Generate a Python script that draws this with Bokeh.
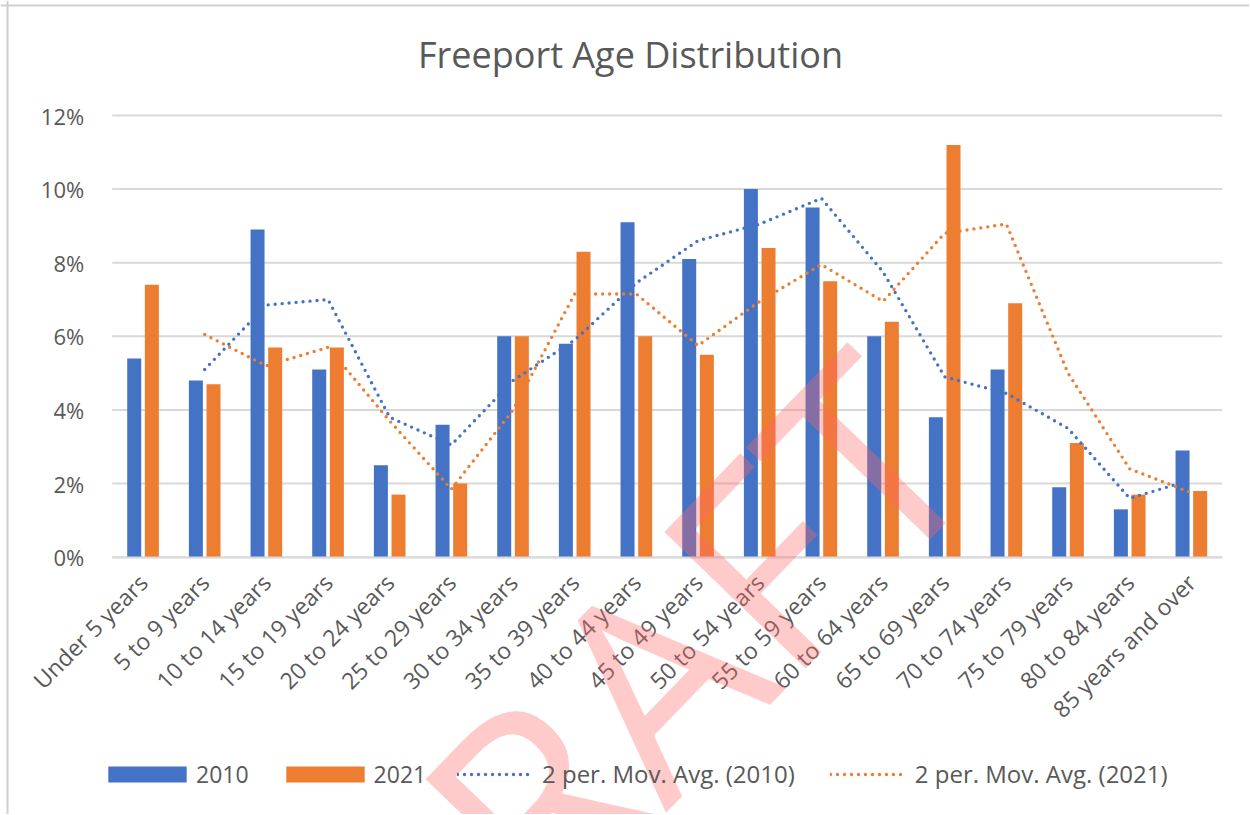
import math
from bokeh.plotting import figure
from bokeh.models import (Range1d, ColumnDataSource, Legend, LegendItem, Label, Span,
                          FixedTicker, PrintfTickFormatter)
from bokeh.transform import dodge
from bokeh.embed import file_html
from bokeh.resources import INLINE

# ---------------- data ----------------
categories = ["Under 5 years", "5 to 9 years", "10 to 14 years", "15 to 19 years",
              "20 to 24 years", "25 to 29 years", "30 to 34 years", "35 to 39 years",
              "40 to 44 years", "45 to 49 years", "50 to 54 years", "55 to 59 years",
              "60 to 64 years", "65 to 69 years", "70 to 74 years", "75 to 79 years",
              "80 to 84 years", "85 years and over"]
pct_2010 = [5.4, 4.8, 8.9, 5.1, 2.5, 3.6, 6.0, 5.8, 9.1, 8.1, 10.0, 9.5, 6.0, 3.8, 5.1, 1.9, 1.3, 2.9]
pct_2021 = [7.4, 4.7, 5.7, 5.7, 1.7, 2.0, 6.0, 8.3, 6.0, 5.5, 8.4, 7.5, 6.4, 11.2, 6.9, 3.1, 1.7, 1.8]

# 2-period moving averages as drawn (they start at the 2nd category)
ma_2010 = [5.1, 6.85, 7.0, 3.8, 3.05, 4.8, 5.9, 7.45, 8.6, 9.05, 9.75, 7.75, 4.9, 4.45, 3.5, 1.6, 2.1]
ma_2021 = [6.05, 5.2, 5.7, 3.7, 1.85, 4.0, 7.15, 7.15, 5.75, 6.95, 7.95, 6.95, 8.8, 9.05, 5.0, 2.4, 1.75]

y_ticks = [0, 2, 4, 6, 8, 10, 12]
title_text = "Freeport Age Distribution"
legend_labels = ["2010", "2021", "2 per. Mov. Avg. (2010)", "2 per. Mov. Avg. (2021)"]
watermark = "DRAFT"

# ---------------- styling ----------------
FONT = "Open Sans"
TXT = "#595959"
GRID = "#d9d9d9"
BLUE = "#4472C4"
ORANGE = "#ED7D31"

W, H = 1249, 814
n = len(categories)
pos = [i + 0.5 for i in range(n)]          # category centres on a numeric axis
cat_px = 1110 / n                          # pixel width of one category
y_px = 441.7 / 12                          # pixels per percentage point

bars = ColumnDataSource(dict(pos=pos, v2010=pct_2010, v2021=pct_2021))
ma = ColumnDataSource(dict(pos=pos[1:], m2010=ma_2010, m2021=ma_2021))
grid = ColumnDataSource(dict(y=y_ticks, x0=[0] * len(y_ticks), x1=[n] * len(y_ticks)))

p = figure(x_range=Range1d(-111.7 / cat_px, (W - 111.7) / cat_px),
           y_range=Range1d(-(H - 556.7) / y_px, 12 + 115 / y_px),
           width=W, height=H, output_backend="svg", toolbar_location=None,
           min_border=0, min_border_left=0, min_border_right=0,
           min_border_top=0, min_border_bottom=0)
p.outline_line_color = None
p.background_fill_color = "white"
p.border_fill_color = "white"
p.xgrid.visible = False
p.ygrid.visible = False

# horizontal gridlines limited to the plot area
p.segment(x0="x0", x1="x1", y0="y", y1="y", source=grid, line_color=GRID, line_width=2)

r1 = p.vbar(x=dodge("pos", -0.143), top="v2010", width=0.227,
            source=bars, fill_color=BLUE, line_color=None)
r2 = p.vbar(x=dodge("pos", 0.143), top="v2021", width=0.227,
            source=bars, fill_color=ORANGE, line_color=None)
r3 = p.line(x="pos", y="m2010", source=ma, line_color=BLUE, line_width=3.4,
            line_dash="0 7", line_cap="round")
r4 = p.line(x="pos", y="m2021", source=ma, line_color=ORANGE, line_width=3.4,
            line_dash="0 7", line_cap="round")

# y axis
p.yaxis.fixed_location = 0
p.yaxis.ticker = FixedTicker(ticks=y_ticks)
p.yaxis.formatter = PrintfTickFormatter(format="%d%%")
p.yaxis.axis_line_color = None
p.yaxis.major_tick_line_color = None
p.yaxis.minor_tick_line_color = None
p.yaxis.major_label_standoff = 22
p.yaxis.major_label_text_font = FONT
p.yaxis.major_label_text_font_size = "22px"
p.yaxis.major_label_text_color = TXT

# x axis (categories)
p.xaxis.fixed_location = 0
p.xaxis.bounds = (0, n)
p.xaxis.ticker = FixedTicker(ticks=pos)
p.xaxis.major_label_overrides = {x: c for x, c in zip(pos, categories)}
p.xaxis.major_label_orientation = math.pi / 4
p.xaxis.axis_line_color = GRID
p.xaxis.axis_line_width = 2
p.xaxis.major_tick_line_color = None
p.xaxis.minor_tick_line_color = None
p.xaxis.major_label_standoff = 15
p.xaxis.major_label_text_font = FONT
p.xaxis.major_label_text_font_size = "23px"
p.xaxis.major_label_text_color = TXT

common = dict(orientation="horizontal", padding=0, margin=0, border_line_color=None,
              background_fill_alpha=0, label_text_font=FONT, label_text_color=TXT)
# legend below the plot area: bar items (patch drawn at 80% of the glyph box)
legend_bars = Legend(items=[LegendItem(label=legend_labels[0], renderers=[r1]),
                            LegendItem(label=legend_labels[1], renderers=[r2])],
                     location=(98, 24), glyph_width=98, glyph_height=20,
                     label_standoff=0, spacing=27, label_text_font_size="23px", **common)
legend_lines = Legend(items=[LegendItem(label=legend_labels[2], renderers=[r3]),
                             LegendItem(label=legend_labels[3], renderers=[r4])],
                      location=(457, 24), glyph_width=73, glyph_height=20,
                      label_standoff=12, spacing=35, label_text_font_size="24px", **common)
p.add_layout(legend_bars)
p.add_layout(legend_lines)

# chart border (left and top edges of the chart box)
p.add_layout(Span(location=7, location_units="screen", dimension="height",
                  line_color="#d0d0d0", line_width=2))
p.add_layout(Span(location=H - 5, location_units="screen", dimension="width",
                  line_color="#d0d0d0", line_width=2))

# title centred over the chart
p.add_layout(Label(x=630, y=H - 54, x_units="screen", y_units="screen", text=title_text,
                   text_font=FONT, text_font_size="36px", text_color=TXT,
                   text_align="center", text_baseline="alphabetic"))

# DRAFT watermark (semi-transparent)
p.add_layout(Label(x=623, y=H - 703, x_units="screen", y_units="screen", text=watermark,
                   angle=46, angle_units="deg", text_font=FONT, text_font_size="275px",
                   text_color=(255, 102, 102, 0.35),
                   text_align="center", text_baseline="alphabetic"))

open("out.html", "w").write(file_html(p, INLINE))
